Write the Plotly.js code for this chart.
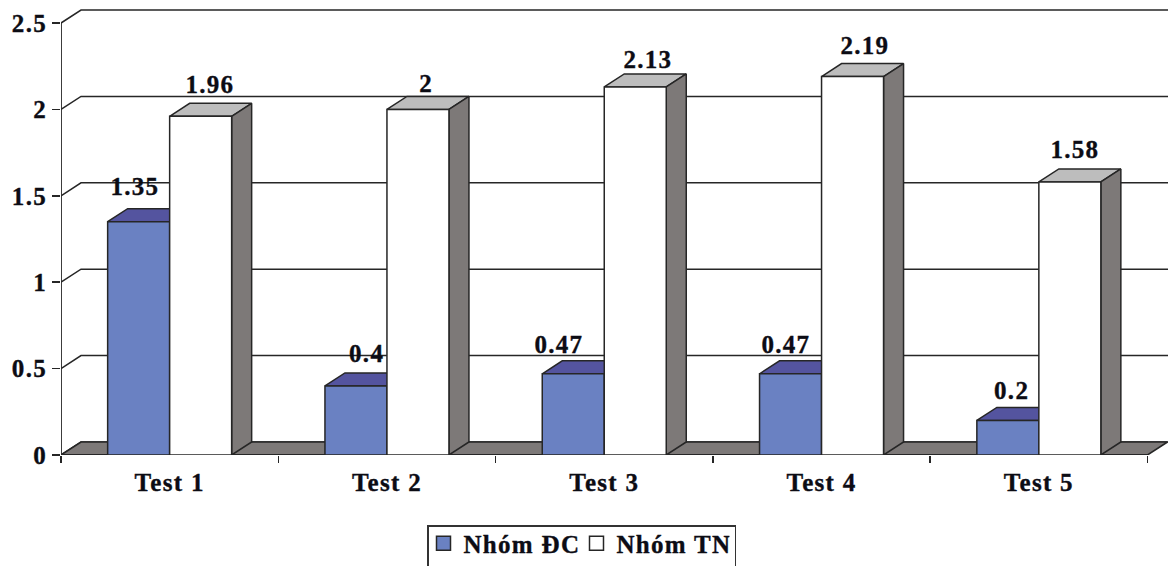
<!DOCTYPE html>
<html>
<head>
<meta charset="utf-8">
<script src="https://cdn.plot.ly/plotly-3.0.1.min.js"></script>
<style>
html,body{margin:0;padding:0;background:#fff;}
.main-svg text{letter-spacing:1.3px;stroke:#0c0c14;stroke-width:0.35px;}
.legend .scrollbox{transform:translate(-5px,-6px);}
</style>
</head>
<body>
<div id="chart" style="width:1168px;height:566px;"></div>
<script>
const categories = ["Test 1","Test 2","Test 3","Test 4","Test 5"];
const nhomDC = [1.35,0.4,0.47,0.47,0.2];
const nhomTN = [1.96,2,2.13,2.19,1.58];
const yTicks = [0,0.5,1,1.5,2,2.5];
const yTickText = ["0","0.5","1","1.5","2","2.5"];
const nameDC = "Nhóm ĐC";
const nameTN = "Nhóm TN";

// pixel scales of the plot area
const W = 1168, H = 566, L = 61, B = 111;
const pxX = 217.3, pxY = 172.8;
const xRange = [-0.5, -0.5 + (W - L) / pxX];
const yRange = [0, (H - B) / pxY];
const wallDx = 20 / pxX, wallDy = 13 / pxY;
const barW = 62 / pxX;

const idx = categories.map((_, i) => i);
const INK = "#262626", SIDE = "#7d7978";
const FONT = {family:"Liberation Serif, serif", size:25, color:"#0c0c14", weight:700};

function poly(list){ // list of [[x,y],...] -> closed polygons
  const xs = [], ys = [];
  list.forEach(p => { p.concat([p[0]]).forEach(q => {xs.push(q[0]); ys.push(q[1]);}); xs.push(null); ys.push(null); });
  return {x:xs, y:ys};
}
function fillTrace(list, fill){
  const p = poly(list);
  return {type:"scatter", mode:"lines", x:p.x, y:p.y, fill:"toself", fillcolor:fill,
          line:{color:INK, width:1.5}, showlegend:false, hoverinfo:"skip", cliponaxis:false};
}
function topFace(xl, xr, v){
  return [[xl,v],[xl+wallDx,v+wallDy],[xr+wallDx,v+wallDy],[xr,v]];
}
function sideFace(xr, v){
  return [[xr,0],[xr+wallDx,wallDy],[xr+wallDx,v+wallDy],[xr,v]];
}

const x0 = -0.5, x1 = categories.length - 0.5;
const grid = {x:[], y:[]};
yTicks.forEach(t => {
  grid.x.push(x0, x0 + wallDx, xRange[1], null);
  grid.y.push(t, t + wallDy, t + wallDy, null);
});
const floor = [[[x0,0],[x0+wallDx,wallDy],[x1+wallDx,wallDy],[x1,0]]];

const traces = [
  {type:"scatter", mode:"lines", x:grid.x, y:grid.y, line:{color:INK, width:1.5},
   showlegend:false, hoverinfo:"skip", cliponaxis:false},
  fillTrace(floor, SIDE),
  fillTrace(idx.map(i => topFace(i - barW, i, nhomDC[i])), "#54549f"),
  fillTrace(idx.map(i => topFace(i, i + barW, nhomTN[i])), "#bdbdbd"),
  fillTrace(idx.map(i => sideFace(i + barW, nhomTN[i])), SIDE),
  {type:"scatter", mode:"lines", x:[x0, x0, null, x0, x1],
   y:[yTicks[yTicks.length-1], 0, null, 0, 0], line:{color:INK, width:1.8},
   showlegend:false, hoverinfo:"skip", cliponaxis:false},
  {type:"bar", x:idx, y:nhomDC, name:nameDC, xaxis:"x2", yaxis:"y2", showlegend:false,
   marker:{color:"#6a81c2", line:{color:INK, width:1.5}}},
  {type:"bar", x:idx, y:nhomTN, name:nameTN, xaxis:"x2", yaxis:"y2", showlegend:false,
   marker:{color:"#ffffff", line:{color:INK, width:1.5}}},
  {type:"scatter", mode:"markers", x:[null], y:[null], name:nameDC,
   marker:{symbol:"square", size:14, color:"#6a81c2", line:{color:INK, width:1.5}}},
  {type:"scatter", mode:"markers", x:[null], y:[null], name:nameTN,
   marker:{symbol:"square", size:14, color:"#ffffff", line:{color:INK, width:1.5}}}
];

const shiftDC = [[-4,35],[11,32],[-14,29],[-5,29],[4,30]];
const shiftTN = [[9,32],[9,26],[13,27],[12,31],[5,32]];
function labels(vals, side, shifts){
  return vals.map((v,i) => ({x:i + side*barW/2, y:v, xref:"x", yref:"y", text:String(v),
    showarrow:false, xanchor:"center", yanchor:"middle", xshift:shifts[i][0], yshift:shifts[i][1],
    font:FONT}));
}

const layout = {
  width:W, height:H, margin:{l:L, r:0, t:0, b:B, autoexpand:false}, paper_bgcolor:"#fff", plot_bgcolor:"#fff",
  barmode:"group", bargap:1 - 2*barW, bargroupgap:0,
  font:FONT, showlegend:true,
  xaxis:{range:xRange, showgrid:false, zeroline:false, showline:false,
         tickmode:"array", tickvals:idx, ticktext:categories, ticks:"", tickfont:FONT,
         ticklabelstandoff:10,
         minor:{tickmode:"array", tickvals:idx.map(i=>i-0.5).concat([x1]), ticks:"outside", ticklen:7, tickwidth:1.5, tickcolor:INK, showgrid:false}},
  yaxis:{range:yRange, showgrid:false, zeroline:false, showline:false,
         tickmode:"array", tickvals:yTicks, ticktext:yTickText, ticks:"outside", ticklen:8, tickwidth:1.5, tickcolor:INK, tickfont:FONT},
  xaxis2:{overlaying:"x", range:xRange, visible:false, anchor:"y2"},
  yaxis2:{overlaying:"y", range:yRange, visible:false, anchor:"x2"},
  annotations:labels(nhomDC,-1,shiftDC).concat(labels(nhomTN,1,shiftTN)),
  legend:{orientation:"h", x:(427-L)/(W-L), xanchor:"left", y:(H-B-525)/(H-B), yanchor:"top",
          bordercolor:"#333", borderwidth:1.5, bgcolor:"#fff", font:FONT, itemwidth:30,
          entrywidth:108, entrywidthmode:"pixels", itemclick:false, itemdoubleclick:false}
};
Plotly.newPlot("chart", traces, layout, {displayModeBar:false, staticPlot:true});
</script>
</body>
</html>
